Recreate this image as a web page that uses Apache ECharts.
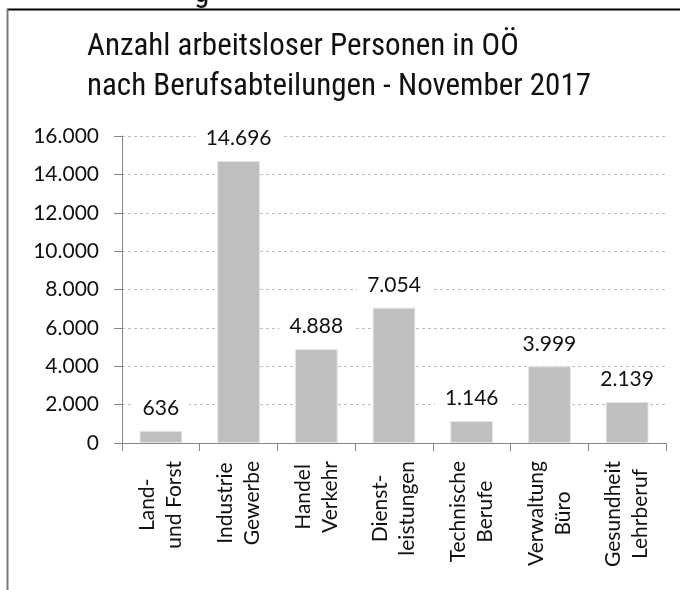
<!DOCTYPE html>
<html>
<head>
<meta charset="utf-8">
<script src="https://cdn.jsdelivr.net/npm/echarts@6/dist/echarts.min.js"></script>
<style>
html,body{margin:0;padding:0;background:#fff;}
#chart{width:680px;height:590px;}
</style>
</head>
<body>
<div id="chart"></div>
<script>
const categories = ['Land-\nund Forst', 'Industrie\nGewerbe', 'Handel\nVerkehr', 'Dienst-\nleistungen', 'Technische\nBerufe', 'Verwaltung\nBüro', 'Gesundheit\nLehrberuf'];
const values = [636, 14696, 4888, 7054, 1146, 3999, 2139];
const yMin = 0;
const yMax = 16000;
const yStep = 2000;
const titleText = 'Anzahl arbeitsloser Personen in OÖ\nnach Berufsabteilungen - November 2017';

function fmt(v) {
  return String(Math.round(v)).replace(/\B(?=(\d{3})+(?!\d))/g, '.');
}

const labelFont = 'Lato, "Open Sans", sans-serif';
const titleFont = '"Roboto Condensed", "Liberation Sans Narrow", Roboto, sans-serif';

const chart = echarts.init(document.getElementById('chart'), null, {renderer: 'canvas'});
chart.setOption({
  backgroundColor: '#fff',
  animation: false,
  title: {
    text: titleText,
    left: 87,
    top: 27,
    padding: 0,
    textStyle: {fontFamily: titleFont, fontSize: 31, fontWeight: 'normal', color: '#111', lineHeight: 40}
  },
  grid: {left: 122, right: 14, top: 136, bottom: 147, containLabel: false},
  xAxis: {
    type: 'category',
    data: categories,
    boundaryGap: true,
    axisLine: {show: true, lineStyle: {color: '#868686', width: 1}},
    axisTick: {show: true, length: 8, alignWithLabel: false, lineStyle: {color: '#868686'}},
    axisLabel: {
      rotate: 90,
      margin: 18,
      interval: 0,
      color: '#111',
      fontFamily: labelFont,
      fontSize: 21,
      lineHeight: 27,
      formatter: function (v) {
        return v.split('\n').map(function (s) { return '{c|' + s + '}'; }).join('\n');
      },
      rich: {c: {align: 'center', fontFamily: labelFont, fontSize: 21, lineHeight: 27, color: '#111'}}
    }
  },
  yAxis: {
    type: 'value',
    min: yMin,
    max: yMax,
    interval: yStep,
    axisLine: {show: true, lineStyle: {color: '#868686', width: 1}},
    axisTick: {show: true, length: 8, lineStyle: {color: '#868686'}},
    axisLabel: {margin: 23, color: '#111', fontFamily: labelFont, fontSize: 21, formatter: fmt},
    splitLine: {show: true, lineStyle: {color: '#bdbdbd', type: [3, 3], width: 1}}
  },
  series: [{
    type: 'bar',
    data: values,
    barWidth: '55%',
    itemStyle: {color: '#bfbfbf', borderColor: '#e4e4e4', borderWidth: 1},
    label: {
      show: true,
      position: 'top',
      distance: 10,
      color: '#111',
      fontFamily: labelFont,
      fontSize: 21,
      backgroundColor: '#fff',
      padding: [2, 10],
      formatter: function (p) { return fmt(p.value); }
    }
  }],
  graphic: [
    {type: 'text', x: 194, y: 10, style: {text: 'g', fontSize: 31, fontFamily: titleFont, fill: '#111', verticalAlign: 'bottom'}, z: 99},
    {type: 'line', shape: {x1: 7, y1: 9.5, x2: 680, y2: 9.5}, style: {stroke: '#000', lineWidth: 2}, z: 100},
    {type: 'line', shape: {x1: 7.5, y1: 9, x2: 7.5, y2: 590}, style: {stroke: '#7a7a7a', lineWidth: 2}, z: 100}
  ]
});
</script>
</body>
</html>
